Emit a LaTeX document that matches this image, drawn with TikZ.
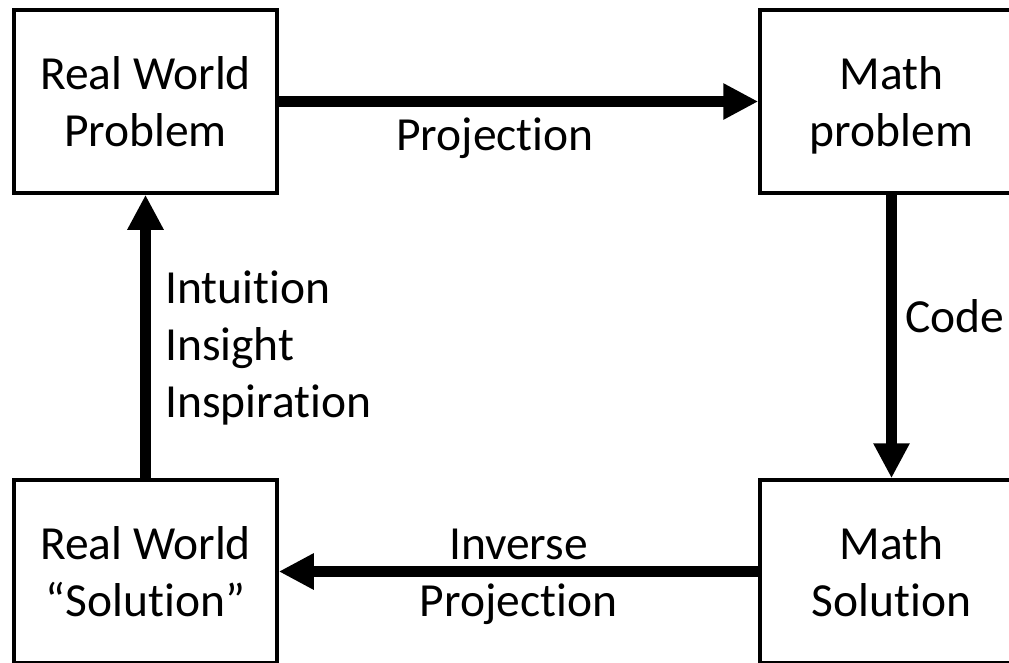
\documentclass[tikz,border=0pt]{standalone}
\usepackage{fontspec}
\setmainfont{Carlito}[RawFeature={-liga}]
\usetikzlibrary{arrows.meta}

\begin{document}
\begin{tikzpicture}[x=1pt,y=-1pt,
  every node/.style={font=\fontsize{47.5}{57}\selectfont},
  stagebox/.style={draw=black,line width=3.5pt,fill=white,align=center,
    minimum width=263pt,minimum height=183pt,text depth=0pt,inner sep=0pt},
  flow/.style={line width=11pt,-{Triangle[length=35pt,width=34pt]}},
  lbl/.style={inner sep=0pt}]
  \useasboundingbox (0,0) rectangle (1009,662);
  \clip (0,0) rectangle (1009,662);

  % the four stages of the cycle
  \node[stagebox] (rwp) at (145.5,101.5) {Real World\\Problem};
  \node[stagebox] (mp)  at (891.5,101.5) {Math\\problem};
  \node[stagebox] (ms)  at (891.5,571.5) {Math\\Solution};
  \node[stagebox] (rws) at (145.5,571.5) {Real World\\“Solution”};

  % connectors between the stages
  \draw[flow] (rwp) -- (mp);
  \draw[flow] (mp) -- (ms);
  \draw[flow] (ms) -- (rws);
  \draw[flow] (rws) -- (rwp);

  % connector labels
  \node[lbl,anchor=base] (proj) at (495,150) {Projection};
  \node[lbl,anchor=base west] (code) at (905,332) {Code};
  \node[lbl,align=center,text depth=0pt] (inv) at (518.5,573) {Inverse\\Projection};
  \node[lbl,align=left,anchor=north west] (intu) at (165,271) {Intuition\\Insight\\Inspiration};
\end{tikzpicture}
\end{document}
